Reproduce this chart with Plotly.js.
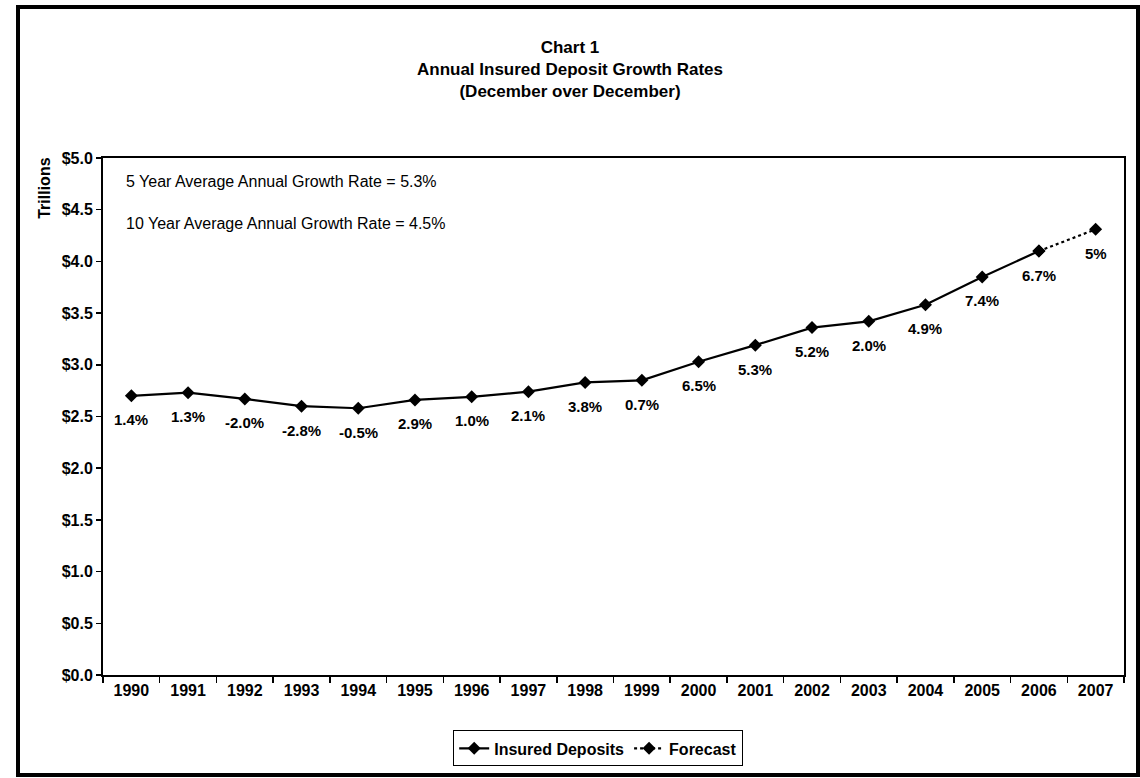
<!DOCTYPE html>
<html>
<head>
<meta charset="utf-8">
<script src="https://cdn.plot.ly/plotly-3.0.1.min.js"></script>
<style>
  html, body { margin: 0; padding: 0; background: #fff; }
  #wrap { position: relative; width: 1140px; height: 778px; overflow: hidden; }
  #chart { position: absolute; left: 0; top: 0; width: 1140px; height: 778px; }
  #frame { position: absolute; left: 16px; top: 5px; width: 1116px; height: 764px;
           border: 4px solid #000; pointer-events: none; }
</style>
</head>
<body>
<div id="wrap">
  <div id="chart"></div>
  <div id="frame"></div>
</div>
<script>
// ---- data ----
const years = ["1990","1991","1992","1993","1994","1995","1996","1997","1998",
               "1999","2000","2001","2002","2003","2004","2005","2006","2007"];
const insuredYears = years.slice(0, 17);
const insuredDeposits = [2.70, 2.73, 2.67, 2.60, 2.58, 2.66, 2.69, 2.74, 2.83,
                         2.85, 3.03, 3.19, 3.36, 3.42, 3.58, 3.85, 4.10];
const forecastYears = ["2006", "2007"];
const forecastValues = [4.10, 4.31];
const growthLabels = ["1.4%","1.3%","-2.0%","-2.8%","-0.5%","2.9%","1.0%","2.1%","3.8%",
                      "0.7%","6.5%","5.3%","5.2%","2.0%","4.9%","7.4%","6.7%","5%"];
const allValues = insuredDeposits.concat([forecastValues[1]]);
const noteLines = ["5 Year Average Annual Growth Rate = 5.3%",
                   "10 Year Average Annual Growth Rate = 4.5%"];

const FONT = "Liberation Sans, Arial, Helvetica, sans-serif";

const traces = [
  {
    type: "scatter", mode: "lines+markers", name: "Insured Deposits",
    x: insuredYears, y: insuredDeposits,
    line: { color: "#000", width: 2.2 },
    marker: { symbol: "diamond", size: 10, color: "#000" },
    cliponaxis: false
  },
  {
    type: "scatter", mode: "lines+markers", name: "Forecast",
    x: forecastYears, y: forecastValues,
    line: { color: "#000", width: 2.2, dash: "dot" },
    marker: { symbol: "diamond", size: 10, color: "#000" },
    cliponaxis: false
  }
];

// growth-rate labels under each point (category index = position in years)
const annotations = years.map((yr, i) => ({
  x: i, y: allValues[i], xref: "x", yref: "y",
  text: growthLabels[i], showarrow: false, yshift: -24,
  font: { family: FONT, size: 15, color: "#000", weight: 700 }
}));

annotations.push({
  xref: "paper", yref: "paper", x: 0.021, y: 0.954, xanchor: "left", yanchor: "middle",
  text: noteLines[0], showarrow: false,
  font: { family: FONT, size: 16, color: "#000" }
});
annotations.push({
  xref: "paper", yref: "paper", x: 0.021, y: 0.873, xanchor: "left", yanchor: "middle",
  text: noteLines[1], showarrow: false,
  font: { family: FONT, size: 16, color: "#000" }
});
annotations.push({
  xref: "paper", yref: "paper", x: -0.057, y: 0.942, xanchor: "center", yanchor: "middle",
  text: "Trillions", textangle: -90, showarrow: false,
  font: { family: FONT, size: 16, color: "#000", weight: 700 }
});

const layout = {
  width: 1140, height: 778,
  paper_bgcolor: "#fff", plot_bgcolor: "#fff",
  margin: { l: 103, r: 16, t: 158, b: 100 },
  showlegend: true,
  title: {
    text: "Chart 1<br>Annual Insured Deposit Growth Rates<br>(December over December)",
    x: 0.5, xref: "container", xanchor: "center",
    y: 1 - 53 / 778, yref: "container", yanchor: "top",
    font: { family: FONT, size: 17, color: "#000", weight: 700 }
  },
  xaxis: {
    type: "category", range: [-0.5, 17.5],
    tickson: "boundaries", ticks: "outside", ticklen: 6, tickwidth: 1.5, tickcolor: "#000",
    showline: true, linecolor: "#000", linewidth: 2, mirror: true,
    showgrid: false, zeroline: false,
    tickfont: { family: FONT, size: 16, color: "#000", weight: 700 }
  },
  yaxis: {
    range: [0, 5], dtick: 0.5, tick0: 0, tickprefix: "$", tickformat: ".1f",
    ticks: "outside", ticklen: 5, tickwidth: 1.5, tickcolor: "#000",
    showline: true, linecolor: "#000", linewidth: 2, mirror: true,
    showgrid: false, zeroline: false,
    tickfont: { family: FONT, size: 16, color: "#000", weight: 700 }
  },
  legend: {
    orientation: "h", x: 0.485, xanchor: "center", y: -0.142, yanchor: "middle",
    bordercolor: "#000", borderwidth: 1, bgcolor: "#fff",
    font: { family: FONT, size: 16, color: "#000", weight: 700 },
    itemwidth: 30, tracegroupgap: 0
  },
  annotations: annotations
};

Plotly.newPlot("chart", traces, layout, { staticPlot: true, displayModeBar: false });
</script>
</body>
</html>
